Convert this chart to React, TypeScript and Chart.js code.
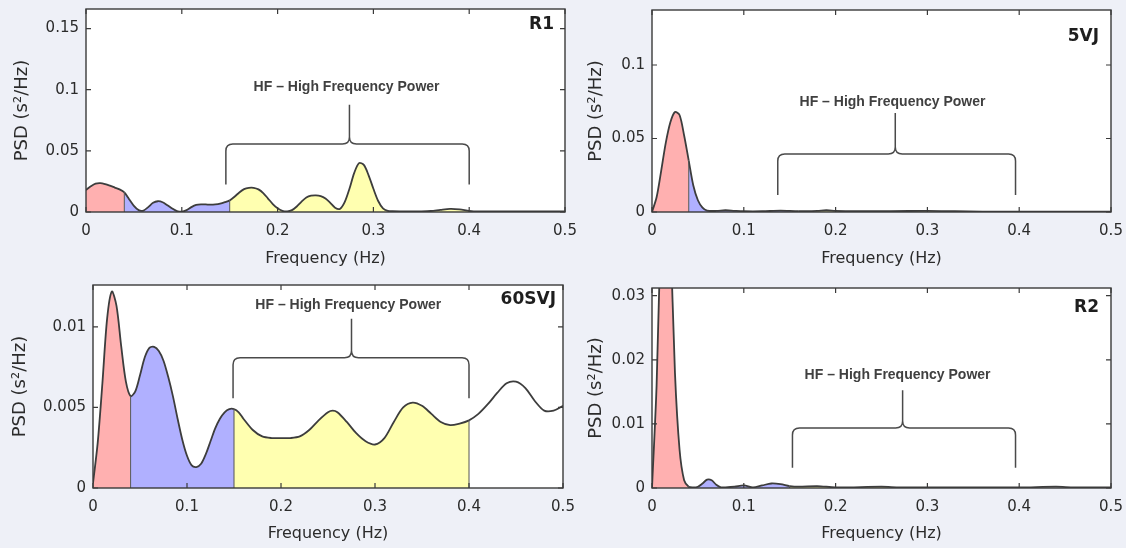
import React, { useEffect, useRef } from "react";
import { Chart, registerables } from "chart.js";

Chart.register(...registerables);

// ---------- data ----------
const xTickValues = [0, 0.1, 0.2, 0.3, 0.4, 0.5];
const bandEdges = [0.04, 0.15, 0.4];
const bandColors = ["#ffb0b0", "#b0b0ff", "#ffffb0"];

const freqR1 = [0, 0.005, 0.01, 0.015, 0.02, 0.025, 0.03, 0.035, 0.04, 0.045, 0.05, 0.055, 0.06, 0.065, 0.07, 0.075, 0.08, 0.085, 0.09, 0.095, 0.1, 0.105, 0.11, 0.115, 0.12, 0.125, 0.13, 0.135, 0.14, 0.145, 0.15, 0.155, 0.16, 0.165, 0.17, 0.175, 0.18, 0.185, 0.19, 0.195, 0.2, 0.205, 0.21, 0.215, 0.22, 0.225, 0.23, 0.235, 0.24, 0.245, 0.25, 0.255, 0.26, 0.265, 0.27, 0.275, 0.28, 0.285, 0.29, 0.295, 0.3, 0.305, 0.31, 0.315, 0.32, 0.33, 0.34, 0.35, 0.36, 0.37, 0.38, 0.39, 0.4, 0.41, 0.43, 0.45, 0.47, 0.5];
const psdR1 = [0.018, 0.021, 0.0232, 0.0236, 0.0228, 0.0215, 0.02, 0.0185, 0.016, 0.0105, 0.005, 0.0015, 0.0012, 0.004, 0.0075, 0.0088, 0.008, 0.0055, 0.0028, 0.0008, 0.0003, 0.0015, 0.004, 0.0058, 0.0063, 0.0062, 0.006, 0.0062, 0.0068, 0.008, 0.0095, 0.0125, 0.016, 0.0187, 0.0198, 0.0198, 0.0185, 0.0155, 0.011, 0.0065, 0.003, 0.001, 0.0005, 0.0015, 0.0045, 0.0085, 0.0118, 0.0133, 0.0136, 0.013, 0.011, 0.0075, 0.0035, 0.0025, 0.008, 0.019, 0.032, 0.04, 0.0385, 0.03, 0.019, 0.009, 0.003, 0.001, 0.0006, 0.0005, 0.0005, 0.0005, 0.0008, 0.0018, 0.0026, 0.0022, 0.001, 0.0005, 0.0004, 0.0004, 0.0004, 0.0004];

const freq5VJ = [0, 0.005, 0.01, 0.015, 0.02, 0.025, 0.03, 0.035, 0.04, 0.045, 0.05, 0.055, 0.06, 0.07, 0.08, 0.09, 0.1, 0.12, 0.14, 0.16, 0.18, 0.19, 0.2, 0.22, 0.26, 0.3, 0.33, 0.36, 0.4, 0.45, 0.5];
const psd5VJ = [0, 0.01, 0.028, 0.047, 0.061, 0.068, 0.066, 0.052, 0.035, 0.018, 0.008, 0.003, 0.001, 0.0007, 0.0012, 0.0008, 0.0005, 0.0005, 0.0009, 0.0005, 0.0008, 0.0012, 0.0008, 0.0005, 0.0006, 0.0007, 0.0005, 0.0003, 0.0003, 0.0003, 0.0003];

const freq60SVJ = [0, 0.005, 0.01, 0.015, 0.02, 0.025, 0.03, 0.035, 0.04, 0.045, 0.05, 0.055, 0.06, 0.065, 0.07, 0.075, 0.08, 0.085, 0.09, 0.095, 0.1, 0.105, 0.11, 0.115, 0.12, 0.125, 0.13, 0.135, 0.14, 0.145, 0.15, 0.155, 0.16, 0.17, 0.18, 0.19, 0.2, 0.21, 0.22, 0.23, 0.24, 0.25, 0.255, 0.26, 0.27, 0.28, 0.29, 0.3, 0.31, 0.32, 0.33, 0.34, 0.35, 0.36, 0.37, 0.38, 0.39, 0.4, 0.41, 0.42, 0.43, 0.44, 0.45, 0.46, 0.47, 0.48, 0.49, 0.5];
const psd60SVJ = [0.0003, 0.0028, 0.0065, 0.0105, 0.0122, 0.0113, 0.0088, 0.0066, 0.0057, 0.006, 0.007, 0.0081, 0.0087, 0.00876, 0.0085, 0.0079, 0.0069, 0.0057, 0.0043, 0.003, 0.002, 0.0014, 0.0013, 0.0015, 0.0021, 0.0029, 0.0037, 0.0043, 0.0047, 0.0049, 0.0049, 0.0047, 0.0043, 0.0036, 0.0032, 0.0031, 0.0031, 0.0031, 0.0032, 0.0036, 0.0042, 0.0047, 0.0048, 0.0047, 0.0041, 0.0034, 0.0029, 0.0027, 0.0031, 0.0041, 0.005, 0.0053, 0.0051, 0.0046, 0.0041, 0.0039, 0.004, 0.0042, 0.0046, 0.0052, 0.0059, 0.0065, 0.0066, 0.0062, 0.0054, 0.0048, 0.0048, 0.0051];

const freqR2 = [0, 0.005, 0.01, 0.015, 0.02, 0.025, 0.03, 0.035, 0.04, 0.045, 0.05, 0.055, 0.06, 0.065, 0.07, 0.075, 0.08, 0.09, 0.1, 0.11, 0.12, 0.13, 0.14, 0.15, 0.16, 0.18, 0.2, 0.25, 0.27, 0.3, 0.4, 0.44, 0.46, 0.5];
const psdR2 = [0, 0.016, 0.042, 0.055, 0.04, 0.018, 0.006, 0.0012, 0.0002, 0.0001, 0.0002, 0.0007, 0.0013, 0.0012, 0.0005, 0.0001, 0.0001, 0.0002, 0.0004, 0.0001, 0.0004, 0.0007, 0.0006, 0.0003, 0.0002, 0.0003, 0.0001, 0.0002, 0.0001, 0.0001, 0.0001, 0.0002, 0.0001, 0.0001];

const hfLabel = "HF \u2013 High Frequency Power";
const xTitle = "Frequency (Hz)";
const yTitle = "PSD (s\u00b2/Hz)";

// ---------- layout / style ----------
const TICK_FONT = '"DejaVu Sans", sans-serif';
const TEXT_COLOR = "#2b2b2b";
const LINE_COLOR = "#3d3d3d";

type Panel = {
  name: string;
  freq: number[];
  psd: number[];
  yMax: number;
  yStep: number;
  box: { left: number; top: number; w: number; h: number };
  area: { left: number; top: number; right: number; bottom: number };
  yTitlePad: number;
  xTitlePad: number;
  bracket: { x0: number; x1: number; xc: number; yH: number; yB: number; yP: number };
  hfText: { x: number; y: number };
  nameOffset: { dx: number; dy: number };
};

const panels: Panel[] = [
  {
    name: "R1", freq: freqR1, psd: psdR1, yMax: 0.166, yStep: 0.05,
    box: { left: 0, top: 0, w: 580, h: 275 },
    area: { left: 86, top: 9, right: 565, bottom: 212 },
    yTitlePad: 12, xTitlePad: 7,
    bracket: { x0: 0.146, x1: 0.4, xc: 0.275, yH: 0.0557, yB: 0.0224, yP: 0.0877 },
    hfText: { x: 0.272, y: 0.102 },
    nameOffset: { dx: 11, dy: 16 },
  },
  {
    name: "5VJ", freq: freq5VJ, psd: psd5VJ, yMax: 0.1374, yStep: 0.05,
    box: { left: 580, top: 0, w: 546, h: 275 },
    area: { left: 72, top: 10, right: 531, bottom: 212 },
    yTitlePad: 6, xTitlePad: 7,
    bracket: { x0: 0.137, x1: 0.396, xc: 0.265, yH: 0.0395, yB: 0.0116, yP: 0.0673 },
    hfText: { x: 0.262, y: 0.0748 },
    nameOffset: { dx: 12, dy: 27 },
  },
  {
    name: "60SVJ", freq: freq60SVJ, psd: psd60SVJ, yMax: 0.0126, yStep: 0.005,
    box: { left: 0, top: 275, w: 580, h: 273 },
    area: { left: 93, top: 10, right: 563, bottom: 213 },
    yTitlePad: 10, xTitlePad: 5,
    bracket: { x0: 0.149, x1: 0.4, xc: 0.275, yH: 0.00809, yB: 0.00557, yP: 0.0105 },
    hfText: { x: 0.2716, y: 0.01135 },
    nameOffset: { dx: 7, dy: 15 },
  },
  {
    name: "R2", freq: freqR2, psd: psdR2, yMax: 0.0312, yStep: 0.01,
    box: { left: 580, top: 275, w: 546, h: 273 },
    area: { left: 72, top: 13, right: 531, bottom: 213 },
    yTitlePad: 6, xTitlePad: 5,
    bracket: { x0: 0.153, x1: 0.396, xc: 0.273, yH: 0.00935, yB: 0.00315, yP: 0.01524 },
    hfText: { x: 0.2675, y: 0.01757 },
    nameOffset: { dx: 12, dy: 20 },
  },
];

const fmt = (v: number | string) => String(parseFloat(Number(v).toFixed(4)));

function bandColor(f: number): string {
  for (let i = 0; i < bandEdges.length; i++) {
    if (f < bandEdges[i] - 1e-9) return bandColors[i];
  }
  return "rgba(0,0,0,0)";
}

const decorPlugin = {
  id: "decor",
  beforeDraw(chart: any) {
    const { ctx, chartArea: a } = chart;
    ctx.save();
    ctx.fillStyle = "#ffffff";
    ctx.fillRect(a.left, a.top, a.right - a.left, a.bottom - a.top);
    ctx.restore();
  },
  afterDraw(chart: any, _args: any, opts: any) {
    const { ctx, chartArea: a, scales } = chart;
    const x = scales.x;
    const y = scales.y;
    ctx.save();
    ctx.strokeStyle = "#3a3a3a";
    ctx.lineWidth = 1.4;
    ctx.strokeRect(a.left, a.top, a.right - a.left, a.bottom - a.top);
    ctx.lineWidth = 1.2;
    ctx.beginPath();
    x.ticks.forEach((t: any) => {
      const p = x.getPixelForValue(t.value);
      ctx.moveTo(p, a.bottom);
      ctx.lineTo(p, a.bottom - 5);
      ctx.moveTo(p, a.top);
      ctx.lineTo(p, a.top + 5);
    });
    y.ticks.forEach((t: any) => {
      const p = y.getPixelForValue(t.value);
      ctx.moveTo(a.left, p);
      ctx.lineTo(a.left + 5, p);
      ctx.moveTo(a.right, p);
      ctx.lineTo(a.right - 5, p);
    });
    ctx.stroke();

    const b = opts.bracket;
    const xL = x.getPixelForValue(b.x0);
    const xR = x.getPixelForValue(b.x1);
    const xC = x.getPixelForValue(b.xc);
    const yH = y.getPixelForValue(b.yH);
    const yB = y.getPixelForValue(b.yB);
    const yP = y.getPixelForValue(b.yP);
    const r = 7;
    ctx.strokeStyle = "#4a4a4a";
    ctx.lineWidth = 1.5;
    ctx.beginPath();
    ctx.moveTo(xL, yB);
    ctx.lineTo(xL, yH + r);
    ctx.quadraticCurveTo(xL, yH, xL + r, yH);
    ctx.lineTo(xC - r, yH);
    ctx.quadraticCurveTo(xC, yH, xC, yH - r);
    ctx.lineTo(xC, yP);
    ctx.moveTo(xC, yH - r);
    ctx.quadraticCurveTo(xC, yH, xC + r, yH);
    ctx.lineTo(xR - r, yH);
    ctx.quadraticCurveTo(xR, yH, xR, yH + r);
    ctx.lineTo(xR, yB);
    ctx.stroke();

    ctx.fillStyle = "#404040";
    ctx.font = 'bold 14px "Liberation Sans", Arial, sans-serif';
    ctx.textAlign = "center";
    ctx.textBaseline = "middle";
    ctx.fillText(opts.hfText, x.getPixelForValue(opts.hfPos.x), y.getPixelForValue(opts.hfPos.y));

    ctx.fillStyle = "#1e1e1e";
    ctx.font = 'bold 17px "DejaVu Sans", sans-serif';
    ctx.textAlign = "right";
    ctx.fillText(opts.name, a.right - opts.nameOffset.dx, a.top + opts.nameOffset.dy);
    ctx.restore();
  },
};

function PanelChart({ p }: { p: Panel }) {
  const ref = useRef<HTMLCanvasElement | null>(null);
  useEffect(() => {
    if (!ref.current) return;
    const points = p.freq.map((f, i) => ({ x: f, y: p.psd[i] }));
    const edgeSets = bandEdges
      .map((e) => {
        const i = p.freq.indexOf(e);
        if (i < 0) return null;
        return {
          data: [{ x: e, y: 0 }, { x: e, y: p.psd[i] }],
          borderColor: "#555555",
          borderWidth: 1,
          pointRadius: 0,
          fill: false,
          tension: 0,
        };
      })
      .filter(Boolean) as any[];

    const chart = new Chart(ref.current, {
      type: "line",
      data: {
        datasets: [
          ...edgeSets,
          {
            data: points,
            borderColor: LINE_COLOR,
            borderWidth: 1.8,
            pointRadius: 0,
            tension: 0.3,
            fill: "origin",
            backgroundColor: "rgba(0,0,0,0)",
            segment: {
              backgroundColor: (ctx: any) => bandColor(p.freq[ctx.p0DataIndex]),
            },
          },
        ],
      },
      options: {
        responsive: false,
        animation: false,
        events: [],
        layout: {
          padding: { left: 0, top: p.area.top, right: p.box.w - p.area.right, bottom: 0 },
        },
        plugins: {
          legend: { display: false },
          tooltip: { enabled: false },
          decor: {
            bracket: p.bracket,
            hfText: hfLabel,
            hfPos: p.hfText,
            name: p.name,
            nameOffset: p.nameOffset,
          },
        } as any,
        scales: {
          x: {
            type: "linear",
            min: 0,
            max: 0.5,
            grid: { display: false, drawTicks: false },
            border: { display: false },
            afterBuildTicks: (s: any) => {
              s.ticks = xTickValues.map((v) => ({ value: v }));
            },
            ticks: {
              autoSkip: false,
              maxRotation: 0,
              padding: 10,
              color: TEXT_COLOR,
              font: { family: TICK_FONT, size: 15 },
              callback: (v: any) => fmt(v),
            },
            title: {
              display: true,
              text: xTitle,
              color: TEXT_COLOR,
              font: { family: TICK_FONT, size: 16 },
              padding: { top: 0, bottom: p.xTitlePad },
            },
            afterFit: (s: any) => {
              s.height = p.box.h - p.area.bottom;
              s.paddingLeft = 0;
              s.paddingRight = 0;
            },
          },
          y: {
            type: "linear",
            min: 0,
            max: p.yMax,
            grid: { display: false, drawTicks: false },
            border: { display: false },
            ticks: {
              stepSize: p.yStep,
              includeBounds: false,
              padding: 7,
              color: TEXT_COLOR,
              font: { family: TICK_FONT, size: 15 },
              callback: (v: any) => fmt(v),
            },
            title: {
              display: true,
              text: yTitle,
              color: TEXT_COLOR,
              font: { family: TICK_FONT, size: 18 },
              padding: { top: p.yTitlePad, bottom: 0 },
            },
            afterFit: (s: any) => {
              s.width = p.area.left;
              s.paddingTop = 0;
              s.paddingBottom = 0;
            },
          },
        },
      } as any,
      plugins: [decorPlugin as any],
    });
    return () => chart.destroy();
  }, [p]);

  return (
    <canvas
      ref={ref}
      width={p.box.w}
      height={p.box.h}
      style={{ position: "absolute", left: p.box.left, top: p.box.top, width: p.box.w, height: p.box.h }}
    />
  );
}

export default function App() {
  return (
    <div
      style={{
        position: "fixed",
        left: 0,
        top: 0,
        width: 1126,
        height: 548,
        background: "#eef0f7",
        overflow: "hidden",
      }}
    >
      {panels.map((p) => (
        <PanelChart key={p.name} p={p} />
      ))}
    </div>
  );
}
